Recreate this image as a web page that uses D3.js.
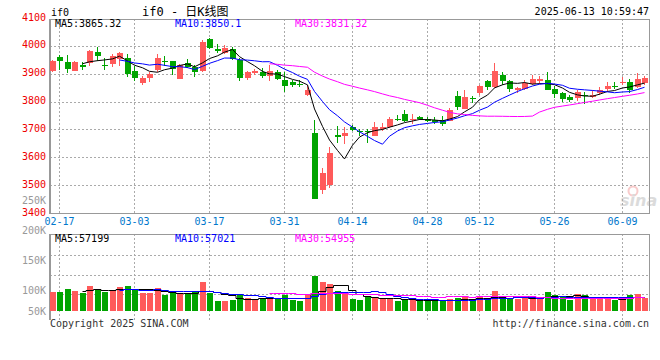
<!DOCTYPE html>
<html>
<head>
<meta charset="utf-8">
<script src="https://cdn.jsdelivr.net/npm/d3@7"></script>
<style>
body{margin:0;background:#fff;}
svg{display:block;}
text{font-family:"DejaVu Sans Mono",monospace;font-size:10px;}
</style>
</head>
<body>
<div id="chart"></div>
<script>

// trading days shown on the chart (month-day)
var dates=["02-14","02-17","02-18","02-19","02-20","02-21","02-24","02-25","02-26","02-27","02-28",
  "03-03","03-04","03-05","03-06","03-07","03-10","03-11","03-12","03-13","03-14",
  "03-17","03-18","03-19","03-20","03-21","03-24","03-25","03-26","03-27","03-28","03-31",
  "04-01","04-02","04-03","04-07","04-08","04-09","04-10","04-11","04-14","04-15","04-16","04-17","04-18",
  "04-21","04-22","04-23","04-24","04-25","04-28","04-29","04-30",
  "05-06","05-07","05-08","05-09","05-12","05-13","05-14","05-15","05-16",
  "05-19","05-20","05-21","05-22","05-23","05-26","05-27","05-28","05-29","05-30",
  "06-03","06-04","06-05","06-06","06-09","06-10","06-11","06-12"];

var opens=[3911,3960,3943,3911,3933,3938,3979,3933,3933,3952,3957,3911,3869,3882,3914,3946,3946,3883,3939,3923,
  3911,4025,3989,3974,3989,3950,3882,3902,3905,3891,3907,3879,3869,3862,3823,3686,3483,3498,3679,3676,
  3708,3694,3695,3679,3702,3708,3736,3757,3736,3745,3739,3733,3733,3733,3821,3775,3814,3829,3873,3852,
  3895,3873,3841,3846,3864,3876,3879,3846,3829,3817,3816,3825,3817,3831,3846,3855,3864,3871,3852,3867];
var highs=[3950,3966,3968,3946,3943,3986,3995,3955,3969,3977,3971,3926,3891,3905,3971,3964,3947,3934,3953,3933,
  4021,4029,4005,4004,3995,3956,3910,3918,3919,3931,3912,3905,3879,3879,3861,3733,3561,3636,3714,3710,
  3716,3702,3702,3726,3724,3745,3752,3771,3757,3750,3745,3745,3748,3777,3838,3841,3819,3861,3876,3937,
  3907,3879,3851,3879,3896,3893,3907,3855,3833,3824,3843,3836,3841,3852,3869,3871,3887,3881,3902,3893];
var lows=[3906,3914,3902,3908,3912,3926,3946,3912,3923,3929,3887,3873,3858,3869,3907,3926,3896,3883,3919,3887,
  3907,3990,3975,3971,3950,3873,3879,3895,3885,3873,3876,3833,3852,3851,3819,3450,3468,3488,3652,3646,
  3693,3676,3652,3676,3695,3705,3730,3726,3721,3733,3726,3721,3712,3730,3769,3774,3795,3823,3841,3849,
  3861,3836,3829,3842,3861,3863,3841,3813,3800,3800,3801,3793,3812,3825,3833,3846,3858,3831,3848,3860];
var closes=[3946,3946,3918,3943,3926,3981,3966,3931,3962,3974,3898,3887,3886,3898,3957,3943,3917,3933,3926,3905,
  4014,3994,3982,3992,3953,3885,3905,3908,3891,3908,3883,3858,3858,3860,3841,3450,3545,3614,3673,3688,
  3696,3692,3692,3710,3710,3736,3733,3733,3739,3738,3733,3726,3718,3771,3783,3817,3810,3855,3852,3911,
  3873,3843,3848,3867,3882,3882,3843,3829,3807,3805,3836,3823,3825,3843,3855,3852,3869,3843,3881,3886];

// daily volume (lots)
var volumes=[76200,76200,89400,80200,72200,100300,89400,77400,84200,95000,100300,89400,73400,73400,92200,65400,71000,68200,73400,76200,
  116300,73400,40100,40100,44100,68200,52100,45300,46900,53300,53300,65400,44100,40100,64200,141600,117500,108300,80200,67000,
  48100,42900,61400,56100,53300,48100,41300,45300,42900,45300,41300,41300,41300,48100,53300,60200,41300,60200,42900,80200,
  61400,50900,49300,50900,53300,50900,76200,64200,57300,45300,68200,64200,49300,49300,49300,45300,57300,64200,68200,50900];

var tickDates=["02-17","03-03","03-17","03-31","04-14","04-28","05-12","05-26","06-09"];
var priceTicks=[4100,4000,3900,3800,3700,3600,3500,3400];
var volTicks=[250000,200000,150000,100000,50000];
var maPeriods=[5,10,30];
var priceMaLabels=["MA5:3865.32","MA10:3850.1","MA30:3831.32"];
var volMaLabels=["MA5:57199","MA10:57021","MA30:54955"];

var maColors=["#000000","#0000ff","#ff00ff"];
var upColor="#ff5a5a";
var downColor="#00a400";
var gridColor="#aaaaaa";
var axisColor="#999999";

var width=660, height=360;
var left=50, right=649;
var pTop=19, pBottom=213;
var vTop=234, vBottom=311;

var svg=d3.select("#chart").append("svg")
  .attr("width",width)
  .attr("height",height);

var x=d3.scaleBand()
  .domain(dates)
  .range([left-1,right])
  .paddingInner(0.2)
  .paddingOuter(0.1);

var y=d3.scaleLinear()
  .domain([3400,4100])
  .range([pBottom,pTop-1]);

var vy=d3.scaleLinear()
  .domain([0,308800])
  .range([vBottom,vTop]);

// scale used by the volume axis labels (they are not on the bar scale)
var vLab=d3.scaleLinear()
  .domain([100000,200000])
  .range([290.7,230.7]);

function cx(d){ return Math.round(x(d)+x.bandwidth()/2)-0.5; }

function movingAvg(arr,n){
  var out=[];
  for(var i=0;i<arr.length;i++){
    if(i<n-1){ out.push(null); continue; }
    var s=0;
    for(var j=i-n+1;j<=i;j++) s+=arr[j];
    out.push(s/n);
  }
  return out;
}

var candles=dates.map(function(d,i){
  return {date:d,open:opens[i],high:highs[i],low:lows[i],close:closes[i],vol:volumes[i]};
});

//grid lines
var grid=svg.append("g")
  .attr("stroke",gridColor)
  .attr("stroke-dasharray","2,2")
  .attr("shape-rendering","crispEdges");

grid.selectAll(".hg")
  .data(priceTicks.filter(function(t){ return t>3400 && t<4100; }))
  .enter().append("line")
  .attr("x1",left).attr("x2",right)
  .attr("y1",function(d){ return Math.round(y(d))+0.5; })
  .attr("y2",function(d){ return Math.round(y(d))+0.5; });

grid.selectAll(".vg")
  .data(tickDates)
  .enter().append("line")
  .attr("x1",function(d){ return cx(d); })
  .attr("x2",function(d){ return cx(d); })
  .attr("y1",pTop).attr("y2",pBottom);

grid.selectAll(".vg2")
  .data(tickDates)
  .enter().append("line")
  .attr("x1",function(d){ return cx(d); })
  .attr("x2",function(d){ return cx(d); })
  .attr("y1",vTop).attr("y2",320);

grid.selectAll(".hv")
  .data([1,2,3])
  .enter().append("line")
  .attr("x1",left).attr("x2",right)
  .attr("y1",function(k){ return 236+19.5*k; })
  .attr("y2",function(k){ return 236+19.5*k; });

//panel borders
var frame=svg.append("g").attr("stroke",axisColor).attr("shape-rendering","crispEdges");
frame.append("line").attr("x1",left).attr("x2",right+1).attr("y1",pTop+0.5).attr("y2",pTop+0.5);
frame.append("line").attr("x1",right+0.5).attr("x2",right+0.5).attr("y1",pTop).attr("y2",pBottom);
frame.append("line").attr("x1",left).attr("x2",left).attr("y1",pTop).attr("y2",pBottom+1).attr("stroke-width",2);
frame.append("line").attr("x1",left-1).attr("x2",right+1).attr("y1",pBottom+0.5).attr("y2",pBottom+0.5).attr("stroke-width",1.5);
frame.append("line").attr("x1",left).attr("x2",right+1).attr("y1",vTop+0.5).attr("y2",vTop+0.5);
frame.append("line").attr("x1",right+0.5).attr("x2",right+0.5).attr("y1",vTop).attr("y2",vBottom);
frame.append("line").attr("x1",left).attr("x2",left).attr("y1",vTop).attr("y2",320).attr("stroke-width",2);

//watermark
var wm=svg.append("g").attr("opacity",0.4);
wm.append("circle").attr("cx",633).attr("cy",191).attr("r",4.5)
  .attr("fill","none").attr("stroke","#f08080").attr("stroke-width",2);
wm.append("text").attr("x",620).attr("y",206)
  .style("font-family","DejaVu Sans").style("font-size","16px")
  .style("font-style","italic").style("font-weight","bold")
  .attr("fill","#a8a8a8").text("sina");

//candles
var cg=svg.append("g").attr("shape-rendering","crispEdges");

cg.selectAll(".wick")
  .data(candles)
  .enter().append("line")
  .attr("x1",function(d){ return cx(d.date); })
  .attr("x2",function(d){ return cx(d.date); })
  .attr("y1",function(d){ return Math.round(y(d.high)); })
  .attr("y2",function(d){ return Math.round(y(d.low)); })
  .attr("stroke",function(d){ return d.close>=d.open ? upColor : downColor; });

cg.selectAll(".body")
  .data(candles)
  .enter().append("rect")
  .attr("x",function(d){ return Math.round(x(d.date)); })
  .attr("width",Math.round(x.bandwidth()))
  .attr("y",function(d){ return Math.round(y(Math.max(d.open,d.close))); })
  .attr("height",function(d){ return Math.max(1,Math.round(Math.abs(y(d.open)-y(d.close)))); })
  .attr("fill",function(d){ return d.close>=d.open ? upColor : downColor; });

//price moving averages
maPeriods.forEach(function(n,k){
  var ma=movingAvg(closes,n);
  var line=d3.line()
    .defined(function(d){ return d!==null; })
    .x(function(d,i){ return cx(dates[i]); })
    .y(function(d){ return y(d); });
  svg.append("path")
    .datum(ma)
    .attr("fill","none")
    .attr("stroke",maColors[k])
    .attr("stroke-width",1)
    .attr("d",line);
});

//volume bars
svg.append("g").attr("shape-rendering","crispEdges")
  .selectAll("rect")
  .data(candles)
  .enter().append("rect")
  .attr("x",function(d){ return Math.round(x(d.date)); })
  .attr("width",Math.round(x.bandwidth()))
  .attr("y",function(d){ return Math.round(vy(d.vol)); })
  .attr("height",function(d){ return vBottom-Math.round(vy(d.vol)); })
  .attr("fill",function(d){ return d.close>=d.open ? upColor : downColor; });

//volume moving averages
maPeriods.forEach(function(n,k){
  var ma=movingAvg(volumes,n);
  var line=d3.line()
    .defined(function(d){ return d!==null; })
    .x(function(d,i){ return cx(dates[i]); })
    .y(function(d){ return Math.round(vy(d))+0.5; })
    .curve(d3.curveStep);
  svg.append("path")
    .datum(ma)
    .attr("fill","none")
    .attr("stroke",maColors[k])
    .attr("stroke-width",1)
    .attr("d",line);
});

//price axis labels
svg.append("g").selectAll("text")
  .data(priceTicks)
  .enter().append("text")
  .attr("x",46)
  .attr("y",function(d){ return y(d)-1; })
  .attr("dy","0.35em")
  .attr("text-anchor","end")
  .attr("fill","#ee0000")
  .text(function(d){ return d; });

//volume axis labels
svg.append("g").selectAll("text")
  .data(volTicks)
  .enter().append("text")
  .attr("x",46)
  .attr("y",function(d){ return Math.min(vLab(d),311); })
  .attr("dy","0.35em")
  .attr("text-anchor","end")
  .attr("fill","#999999")
  .text(function(d){ return (d/1000)+"K"; });

//date labels
svg.append("g").selectAll("text")
  .data(tickDates)
  .enter().append("text")
  .attr("x",function(d){ return cx(d); })
  .attr("y",221.5)
  .attr("dy","0.35em")
  .attr("text-anchor","middle")
  .attr("fill","#0077cc")
  .text(function(d){ return d; });

//legends
var legendX=[55,175,295];
svg.append("g").selectAll("text")
  .data(priceMaLabels)
  .enter().append("text")
  .attr("x",function(d,i){ return legendX[i]; })
  .attr("y",23.5)
  .attr("dy","0.35em")
  .attr("fill",function(d,i){ return maColors[i]; })
  .text(function(d){ return d; });

svg.append("g").selectAll("text")
  .data(volMaLabels)
  .enter().append("text")
  .attr("x",function(d,i){ return legendX[i]; })
  .attr("y",238.5)
  .attr("dy","0.35em")
  .attr("fill",function(d,i){ return maColors[i]; })
  .text(function(d){ return d; });

//header
svg.append("text").attr("x",51).attr("y",12.5).attr("dy","0.35em").attr("fill","#000").text("if0");
svg.append("text").attr("x",142).attr("y",11.5).attr("dy","0.35em").attr("fill","#000")
  .style("font-family","'DejaVu Sans Mono','Noto Sans CJK SC'").style("font-size","12px")
  .text("if0 - 日K线图");
svg.append("text").attr("x",649).attr("y",11.5).attr("dy","0.35em").attr("text-anchor","end")
  .attr("fill","#000").text("2025-06-13 10:59:47");

//footer
svg.append("text").attr("x",50).attr("y",323.5).attr("dy","0.35em").attr("fill","#333")
  .text("Copyright 2025 SINA.COM");
svg.append("text").attr("x",649).attr("y",323.5).attr("dy","0.35em").attr("text-anchor","end")
  .attr("fill","#333").text("http://finance.sina.com.cn");

</script>
</body>
</html>
